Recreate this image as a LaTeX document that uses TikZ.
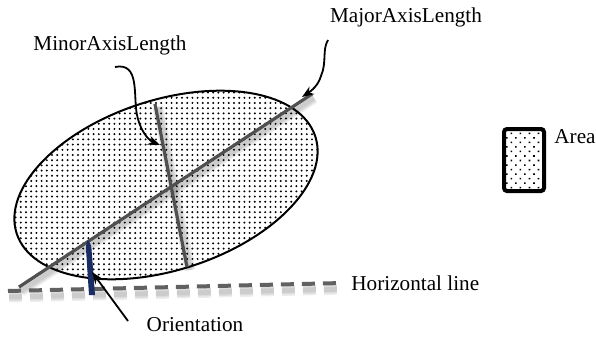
\documentclass[tikz,border=0pt]{standalone}
\usepackage{fontspec}
\setmainfont{Liberation Serif}
\usetikzlibrary{arrows.meta,patterns.meta}

\definecolor{axisgray}{RGB}{80,80,80}
\definecolor{navy}{RGB}{25,45,100}

\tikzset{
  axisline/.style={axisgray, line width=1.6pt},
  shadowline/.style={black, opacity=0.07, line width=3.5pt},
  pointer/.style={black, line width=0.9pt, -{Stealth[length=6pt,width=4.5pt]}},
  lbl/.style={inner sep=1pt, font=\fontsize{10.6}{12}\selectfont},
  dotfill/.style={pattern={Dots[distance=2.6pt, radius=0.55pt]}},
}

\begin{document}
\begin{tikzpicture}[x=0.5pt, y=-0.5pt]
    \useasboundingbox (0,0) rectangle (596,337);
    % Ellipse mit Punktmuster:
    \coordinate (c) at (166,185);
    \draw[line width=1pt, dotfill] (c) ellipse [x radius=157, y radius=85, rotate=18];
    % Achsen-Endpunkte:
    \coordinate (maj1) at (19,287); % Anfang grosse Achse
    \coordinate (maj2) at (312,94); % Ende grosse Achse
    \coordinate (min1) at (155,104); % oben kleine Achse
    \coordinate (min2) at (187,267); % unten kleine Achse
    \coordinate (h1) at (8,291);
    \coordinate (h2) at (343,283);
    % weiche Schatten:
    \foreach \w in {2.5pt,4pt,5.5pt} {
      \draw[shadowline, line width=\w] ([shift={(2,4)}]maj1) -- ([shift={(2,4)}]maj2);
      \draw[shadowline, line width=\w] ([shift={(3,3)}]min1) -- ([shift={(3,3)}]min2);
      \draw[shadowline, line width=\w, dash pattern=on 6.5pt off 4pt] ([shift={(1,6)}]h1) -- ([shift={(1,6)}]h2);
    }
    % Achsen:
    \draw[axisline] (maj1) -- (maj2);
    \draw[axisline] (min1) -- (min2);
    \draw[axisgray!90, line width=2pt, dash pattern=on 6.5pt off 4pt] (h1) -- (h2);
    % Orientierungs-Marke:
    \fill[navy] (86,249) .. controls (86,244) and (87,241) .. (88,240)
        .. controls (90,242) and (91,245) .. (91.5,249) -- (95,295) -- (89,295) -- cycle;
    % Beschriftungen:
    \node[lbl] (minorlbl) at (110,45) {MinorAxisLength};
    \node[lbl] (majorlbl) at (406,17) {MajorAxisLength};
    \node[lbl, anchor=west] (horlbl) at (349,283) {Horizontal line};
    \node[lbl] (orientlbl) at (195,325) {Orientation};
    % Legende:
    \node[draw, line width=2pt, rounded corners=1.5pt,
          pattern={Dots[distance=3.2pt, angle=45, radius=0.55pt]},
          minimum width=20pt, minimum height=31pt, inner sep=0pt] (areabox) at (524,160) {};
    \node[lbl, inner sep=0pt, anchor=west] (arealbl) at (554,137) {Area};
    % Pfeile:
    \coordinate (minstart) at (115,67);
    \coordinate (mintip) at (160,145);
    \coordinate (majstart) at (328,40);
    \coordinate (majtip) at (302,97);
    \coordinate (oristart) at (128,321);
    \coordinate (oritip) at (92,272);
    \draw[pointer] (minstart) .. controls (140,62) and (133,95) .. (137,115)
        .. controls (140,130) and (148,140) .. (mintip);
    \draw[pointer] (majstart) .. controls (322,50) and (327,62) .. (321,76)
        .. controls (318,86) and (311,91) .. (majtip);
    \draw[pointer] (oristart) -- (oritip);
\end{tikzpicture}
\end{document}
